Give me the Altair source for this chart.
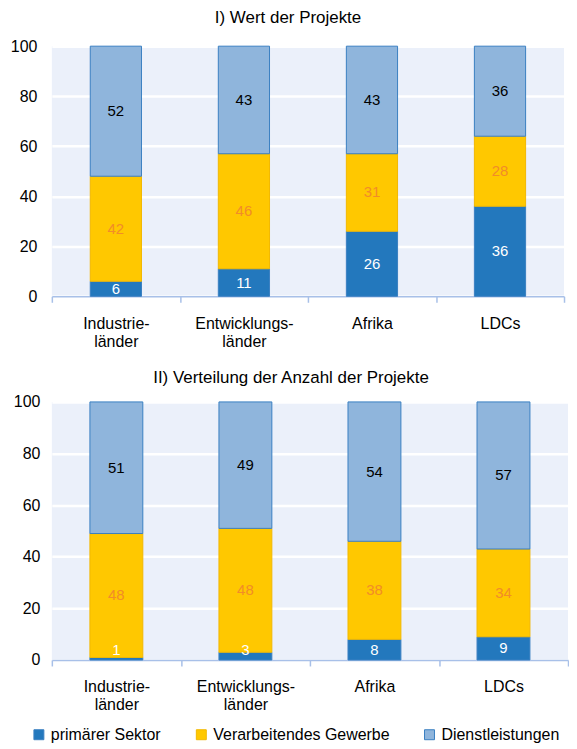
import json
import altair as alt
import pandas as pd

regions = ["Industrieländer", "Entwicklungsländer", "Afrika", "LDCs"]
region_labels = [["Industrie-", "länder"], ["Entwicklungs-", "länder"], ["Afrika"], ["LDCs"]]
sectors = ["primärer Sektor", "Verarbeitendes Gewerbe", "Dienstleistungen"]

wert_primaer = [6, 11, 26, 36]
wert_verarb = [42, 46, 31, 28]
wert_dienst = [52, 43, 43, 36]

anzahl_primaer = [1, 3, 8, 9]
anzahl_verarb = [48, 48, 38, 34]
anzahl_dienst = [51, 49, 54, 57]

fill_colors = ["#2378BD", "#FFC800", "#8FB5DC"]
stroke_colors = ["#3A80C2", "#F2B800", "#3A80C2"]
text_colors = ["#FFFFFF", "#F28C28", "#000000"]
bg = "#EBF0FA"
axis_blue = "#A8C0E8"
FONT = "Liberation Sans"


def make_df(series):
    rows = []
    for r_i, region in enumerate(regions):
        start = 0
        for s_i, sector in enumerate(sectors):
            v = series[s_i][r_i]
            mid = start + v / 2 if v >= 5 else 4
            rows.append({"region": region, "sector": sector, "idx": s_i, "value": v,
                         "mid": mid, "tcolor": text_colors[s_i]})
            start += v
    return pd.DataFrame(rows)


label_map = json.dumps(dict(zip(regions, region_labels)), ensure_ascii=False)


def panel(df, title, width, height, ypad, title_dx, title_offset, bar_frac):
    base = alt.Chart(df)
    x = alt.X("region:N", sort=regions, title=None,
              scale=alt.Scale(paddingInner=0, paddingOuter=0),
              axis=alt.Axis(labelAngle=0, labelExpr=f"{label_map}[datum.label]",
                            labelFontSize=16, labelColor="#000000", labelLineHeight=18,
                            labelPadding=13, tickBand="extent", tickSize=6,
                            tickColor=axis_blue, domainColor=axis_blue, domainWidth=1.5,
                            tickWidth=1.5, grid=False))
    bars = base.mark_bar(width=alt.RelativeBandSize(bar_frac), strokeWidth=1).encode(
        x=x,
        y=alt.Y("value:Q", stack="zero", title=None,
                scale=alt.Scale(domain=[0, 100], nice=False),
                axis=alt.Axis(values=[0, 20, 40, 60, 80, 100], labelFontSize=16,
                              labelColor="#000000", labelPadding=ypad, domain=False,
                              ticks=False, grid=True, gridColor="#FFFFFF", gridWidth=2.5)),
        fill=alt.Fill("sector:N", sort=sectors,
                      scale=alt.Scale(domain=sectors, range=fill_colors),
                      legend=alt.Legend(title=None, orient="none", legendX=-21, legendY=683,
                                        direction="horizontal", symbolType="square",
                                        symbolSize=100, labelFontSize=16, labelColor="#000000",
                                        columnPadding=32, labelOffset=4, padding=0,
                                        labelLimit=400, symbolStrokeWidth=1)),
        stroke=alt.Stroke("sector:N", sort=sectors,
                          scale=alt.Scale(domain=sectors, range=stroke_colors)),
        order=alt.Order("idx:Q", sort="ascending"),
    )
    texts = base.mark_text(fontSize=15, font=FONT).encode(
        x=alt.X("region:N", sort=regions),
        y=alt.Y("mid:Q", stack=None),
        text=alt.Text("value:Q"),
        color=alt.Color("tcolor:N", scale=None),
    )
    return alt.layer(bars, texts).properties(
        width=width, height=height,
        title=alt.TitleParams(title, fontSize=17, font=FONT, fontWeight="normal",
                              color="#000000", dx=title_dx, offset=title_offset),
    )


p1 = panel(make_df([wert_primaer, wert_verarb, wert_dienst]), "I) Wert der Projekte",
           514, 251, 15, -20, 11, 0.4)
p2 = panel(make_df([anzahl_primaer, anzahl_verarb, anzahl_dienst]),
           "II) Verteilung der Anzahl der Projekte", 518, 259, 12, -19, 7, 0.41)

chart = alt.vconcat(p1, p2, spacing=20).properties(
    padding={"left": 2, "right": 0, "top": 0, "bottom": 0}
).configure(
    font=FONT,
    view=alt.ViewConfig(fill=bg, strokeWidth=0),
)

chart.save("out.html", embed_options={"renderer": "svg", "actions": False})
